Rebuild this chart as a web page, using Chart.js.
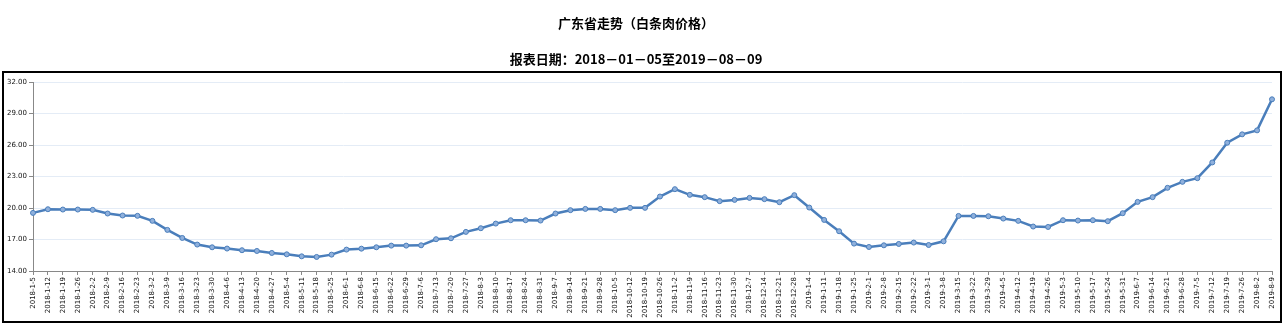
<!DOCTYPE html>
<html>
<head>
<meta charset="utf-8">
<script src="https://cdn.jsdelivr.net/npm/chart.js@4.4.0/dist/chart.umd.min.js"></script>
<style>
  html, body { margin: 0; padding: 0; background: #fff; }
  #wrap { position: relative; width: 1285px; height: 326px; }
</style>
</head>
<body>
<div id="wrap"><canvas id="priceChart" width="1285" height="326"></canvas></div>
<script>
  var chartTitle = '广东省走势（白条肉价格）';
  var chartSubtitle = '报表日期：2018－01－05至2019－08－09';

  var weekLabels = [
    '2018-1-5', '2018-1-12', '2018-1-19', '2018-1-26', '2018-2-2', '2018-2-9', '2018-2-16', '2018-2-23',
    '2018-3-2', '2018-3-9', '2018-3-16', '2018-3-23', '2018-3-30', '2018-4-6', '2018-4-13', '2018-4-20',
    '2018-4-27', '2018-5-4', '2018-5-11', '2018-5-18', '2018-5-25', '2018-6-1', '2018-6-8', '2018-6-15',
    '2018-6-22', '2018-6-29', '2018-7-6', '2018-7-13', '2018-7-20', '2018-7-27', '2018-8-3', '2018-8-10',
    '2018-8-17', '2018-8-24', '2018-8-31', '2018-9-7', '2018-9-14', '2018-9-21', '2018-9-28', '2018-10-5',
    '2018-10-12', '2018-10-19', '2018-10-26', '2018-11-2', '2018-11-9', '2018-11-16', '2018-11-23', '2018-11-30',
    '2018-12-7', '2018-12-14', '2018-12-21', '2018-12-28', '2019-1-4', '2019-1-11', '2019-1-18', '2019-1-25',
    '2019-2-1', '2019-2-8', '2019-2-15', '2019-2-22', '2019-3-1', '2019-3-8', '2019-3-15', '2019-3-22',
    '2019-3-29', '2019-4-5', '2019-4-12', '2019-4-19', '2019-4-26', '2019-5-3', '2019-5-10', '2019-5-17',
    '2019-5-24', '2019-5-31', '2019-6-7', '2019-6-14', '2019-6-21', '2019-6-28', '2019-7-5', '2019-7-12',
    '2019-7-19', '2019-7-26', '2019-8-2', '2019-8-9'
  ];

  // 白条肉价格 (元/公斤)
  var priceValues = [
    19.54, 19.89, 19.86, 19.86, 19.83, 19.48, 19.29, 19.26,
    18.78, 17.92, 17.15, 16.52, 16.26, 16.14, 15.98, 15.91,
    15.72, 15.59, 15.40, 15.34, 15.56, 16.04, 16.13, 16.26,
    16.42, 16.42, 16.45, 17.03, 17.12, 17.73, 18.08, 18.52,
    18.84, 18.84, 18.81, 19.48, 19.80, 19.92, 19.92, 19.80,
    20.02, 20.02, 21.10, 21.80, 21.26, 21.04, 20.66, 20.78,
    20.97, 20.85, 20.56, 21.23, 20.05, 18.87, 17.79, 16.61,
    16.29, 16.45, 16.58, 16.71, 16.48, 16.83, 19.25, 19.25,
    19.22, 19.00, 18.78, 18.24, 18.20, 18.84, 18.81, 18.84,
    18.75, 19.51, 20.59, 21.04, 21.93, 22.50, 22.85, 24.35,
    26.23, 27.03, 27.41, 30.37
  ];

  var yMin = 14, yMax = 32, yStep = 3;

  // black frame round the plot
  var framePlugin = {
    id: 'frame',
    afterDraw: function(chart) {
      var ctx = chart.ctx;
      ctx.save();
      ctx.strokeStyle = '#000';
      ctx.lineWidth = 2;
      ctx.strokeRect(3, 72, 1278, 250);
      ctx.restore();
    }
  };

  var tickFont = { family: '"DejaVu Sans", sans-serif', size: 7 };

  var ctx = document.getElementById('priceChart');
  new Chart(ctx, {
    type: 'line',
    data: {
      labels: weekLabels,
      datasets: [{
        label: '白条肉价格',
        data: priceValues,
        borderColor: '#4a7ebb',
        borderWidth: 2.5,
        pointRadius: 2.5,
        pointBackgroundColor: '#8fb0dc',
        pointBorderColor: '#4a7ebb',
        pointBorderWidth: 1,
        tension: 0,
        fill: false
      }]
    },
    options: {
      responsive: false,
      animation: false,
      devicePixelRatio: 1,
      layout: { padding: { left: 0, right: 13, top: 0, bottom: 0 } },
      plugins: {
        legend: { display: false },
        tooltip: { enabled: false },
        title: {
          display: true,
          text: chartTitle,
          color: '#000',
          font: { family: '"Noto Sans CJK SC", sans-serif', size: 13, weight: 'bold', lineHeight: 1.2 },
          padding: { top: 15, bottom: 0 }
        },
        subtitle: {
          display: true,
          text: chartSubtitle,
          color: '#000',
          font: { family: '"Noto Sans CJK SC", sans-serif', size: 13, weight: 'bold', lineHeight: 1.2 },
          padding: { top: 21, bottom: 15 }
        }
      },
      scales: {
        x: {
          offset: false,
          grid: { drawOnChartArea: false, tickLength: 4, tickColor: '#888' },
          border: { color: '#888', width: 1 },
          ticks: {
            autoSkip: false,
            minRotation: 90,
            maxRotation: 90,
            padding: 2,
            color: '#111',
            font: tickFont
          },
          afterFit: function(scale) { scale.height = 55; }
        },
        y: {
          min: yMin,
          max: yMax,
          grid: { color: '#e4ecf6', tickLength: 4, tickColor: '#888' },
          border: { color: '#888', width: 1 },
          ticks: {
            stepSize: yStep,
            padding: 2,
            color: '#111',
            font: tickFont,
            callback: function(v) { return Number(v).toFixed(2); }
          },
          afterFit: function(scale) { scale.width = 33; }
        }
      }
    },
    plugins: [framePlugin]
  });
</script>
</body>
</html>
